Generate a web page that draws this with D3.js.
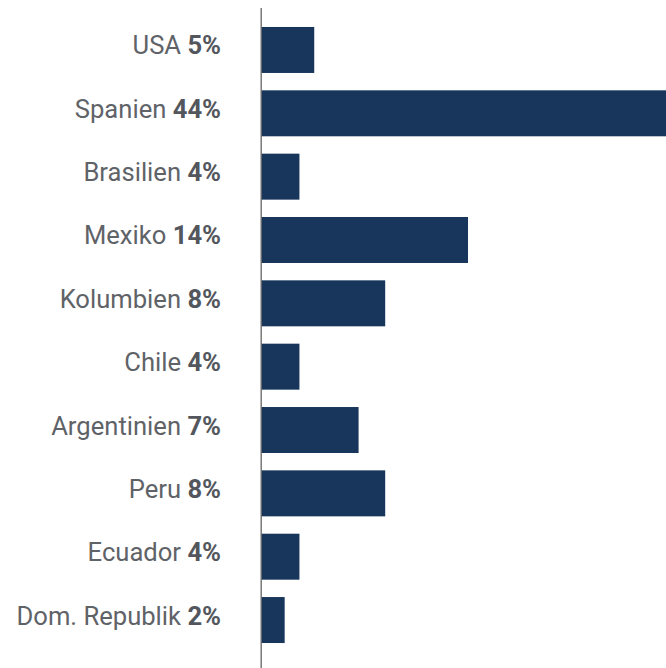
<!DOCTYPE html>
<html>
<head>
<meta charset="utf-8">
<script src="https://cdn.jsdelivr.net/npm/d3@7"></script>
<style>
  html, body { margin: 0; padding: 0; background: #fff; }
  svg { display: block; }
</style>
</head>
<body>
<div id="chart"></div>
<script>
const countries = ['USA', 'Spanien', 'Brasilien', 'Mexiko', 'Kolumbien', 'Chile', 'Argentinien', 'Peru', 'Ecuador', 'Dom. Republik'];
// label percentages as printed
const shares = [5, 44, 4, 14, 8, 4, 7, 8, 4, 2];
// bar lengths as drawn
const values = [3.6, 44, 2.6, 14, 8.4, 2.6, 6.6, 8.4, 2.6, 1.6];

const width = 666;
const height = 668;
const x0 = 261;

const x = d3.scaleLinear()
    .domain([0, 14])
    .range([x0, x0 + 207]);

const y = d3.scaleBand()
    .domain(countries)
    .range([18.3, 651.7])
    .paddingInner(0.274)
    .paddingOuter(0.137);

const svg = d3.select('#chart')
    .append('svg')
    .attr('width', width)
    .attr('height', height)
    .attr('viewBox', `0,0,${width},${height}`);

// bars
svg.append('g')
    .selectAll('rect')
    .data(countries)
    .join('rect')
    .attr('x', x(0))
    .attr('y', d => y(d))
    .attr('width', (d, i) => x(values[i]) - x(0))
    .attr('height', y.bandwidth())
    .style('fill', '#18365b');

// axis line
svg.append('line')
    .attr('x1', x0 + 0.2)
    .attr('x2', x0 + 0.2)
    .attr('y1', 8)
    .attr('y2', height)
    .style('stroke', '#6f6f6f')
    .style('stroke-width', 1.4);

// labels
const labels = svg.append('g')
    .selectAll('text')
    .data(countries)
    .join('text')
    .attr('x', 221)
    .attr('y', d => y(d) + y.bandwidth() / 2 + 4.5)
    .attr('text-anchor', 'end')
    .style('font-family', 'Roboto, sans-serif')
    .style('font-size', '25.6px')
    .style('fill', '#5f6368');

labels.append('tspan')
    .text(d => d + ' ');

labels.append('tspan')
    .style('font-weight', 'bold')
    .style('fill', '#53575d')
    .text((d, i) => shares[i] + '%');
</script>
</body>
</html>
